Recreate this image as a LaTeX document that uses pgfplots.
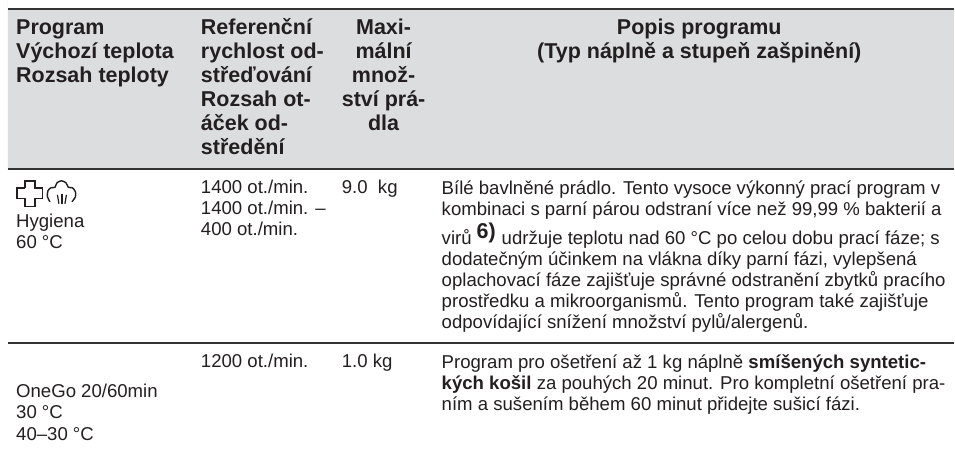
\documentclass[border=0pt]{standalone}
\usepackage{pgfplots}
\pgfplotsset{compat=1.18}
\usepackage{fontspec}
\setmainfont{Liberation Sans}
\definecolor{ink}{HTML}{231F20}
\definecolor{band}{HTML}{DCDDDE}
\definecolor{rule}{HTML}{333333}
\newcommand{\hd}[3]{\node[anchor=base west,inner sep=0pt,text=ink,font=\fontsize{21.5}{24}\selectfont\bfseries] at (axis cs:#1,#2) {#3};}
\newcommand{\hc}[3]{\node[anchor=base,inner sep=0pt,text=ink,font=\fontsize{21.5}{24}\selectfont\bfseries] at (axis cs:#1,#2) {#3};}
\newcommand{\bd}[3]{\node[anchor=base west,inner sep=0pt,text=ink,font=\fontsize{18.6}{21}\selectfont] at (axis cs:#1,#2) {#3};}
\begin{document}
\begin{tikzpicture}
\begin{axis}[
  width=955pt,height=449pt,scale only axis,
  xmin=0,xmax=955,ymin=0,ymax=449,y dir=reverse,
  hide axis,clip=false]
\addplot[draw=none,fill=white,forget plot] coordinates {(0,0)(955,0)(955,449)(0,449)} \closedcycle;
\addplot[draw=none,fill=band,forget plot] coordinates {(8,9)(955,9)(955,169)(8,169)} \closedcycle;
\addplot[rule,line width=2pt,forget plot] coordinates {(8,9)(955,9)};
\addplot[rule,line width=2pt,forget plot] coordinates {(8,169.5)(955,169.5)};
\addplot[rule,line width=2pt,forget plot] coordinates {(8,343.5)(955,343.5)};
% cross icon
\addplot[ink,line width=1.4pt,forget plot] coordinates {(25,188)(25,181)(35,181)(35,188)(42.5,188)(42.5,199)(35,199)(35,206.5)(25,206.5)(25,199)(17,199)(17,188)(25,188)};
% cloud icon
\addplot[ink,line width=1.4pt,smooth,forget plot] coordinates {(50,202)(47.5,197)(48,191)(51,188)(55,187.5)(57,183)(61.5,181)(66,183)(68.5,187.5)(72.5,188)(75.5,192)(75.5,197)(72,202)};
\addplot[ink,line width=1.2pt,forget plot] coordinates {(57.5,195)(59,204)};
\addplot[ink,line width=1.2pt,forget plot] coordinates {(62,194)(62,204)};
\addplot[ink,line width=1.2pt,forget plot] coordinates {(66.5,195)(65,204)};
% header
\hd{16}{34.5}{Program}
\hd{16}{59}{Výchozí teplota}
\hd{16}{83}{Rozsah teploty}
\hd{201}{34.5}{Referenční}
\hd{201}{59}{rychlost od-}
\hd{201}{83}{střeďování}
\hd{201}{107}{Rozsah ot-}
\hd{201}{131}{áček od-}
\hd{201}{155}{středění}
\hc{384}{34.5}{Maxi-}
\hc{384}{59}{mální}
\hc{384}{83}{množ-}
\hc{384}{107}{ství prá-}
\hc{384}{131}{dla}
\hc{700}{34.5}{Popis programu}
\hc{700}{59}{(Typ náplně a stupeň zašpinění)}
% row 1
\bd{16}{228}{Hygiena}
\bd{16}{249}{60 °C}
\bd{201}{194}{1400 ot./min.}
\bd{201}{215}{1400 ot./min. –}
\bd{201}{236}{400 ot./min.}
\bd{342}{194}{9.0\ \ kg}
\bd{442}{195}{Bílé bavlněné prádlo. Tento vysoce výkonný prací program v}
\bd{442}{216}{kombinaci s parní párou odstraní více než 99,99 \% bakterií a}
\bd{442}{245}{virů}
\node[anchor=base west,inner sep=0pt,text=ink,font=\fontsize{21.5}{24}\selectfont\bfseries] at (axis cs:477,238.5) {6)};
\bd{502}{245}{udržuje teplotu nad 60 °C po celou dobu prací fáze; s}
\bd{442}{266}{dodatečným účinkem na vlákna díky parní fázi, vylepšená}
\bd{442}{287}{oplachovací fáze zajišťuje správné odstranění zbytků pracího}
\bd{442}{308}{prostředku a mikroorganismů. Tento program také zajišťuje}
\bd{442}{329}{odpovídající snížení množství pylů/alergenů.}
% row 2
\bd{16}{398}{OneGo 20/60min}
\bd{16}{419}{30 °C}
\bd{16}{441}{40–30 °C}
\bd{201}{368}{1200 ot./min.}
\bd{342}{368}{1.0 kg}
\bd{442}{369}{Program pro ošetření až 1 kg náplně \textbf{smíšených syntetic-}}
\bd{442}{390}{\textbf{kých košil} za pouhých 20 minut. Pro kompletní ošetření pra-}
\bd{442}{411}{ním a sušením během 60 minut přidejte sušicí fázi.}
\end{axis}
\end{tikzpicture}
\end{document}
